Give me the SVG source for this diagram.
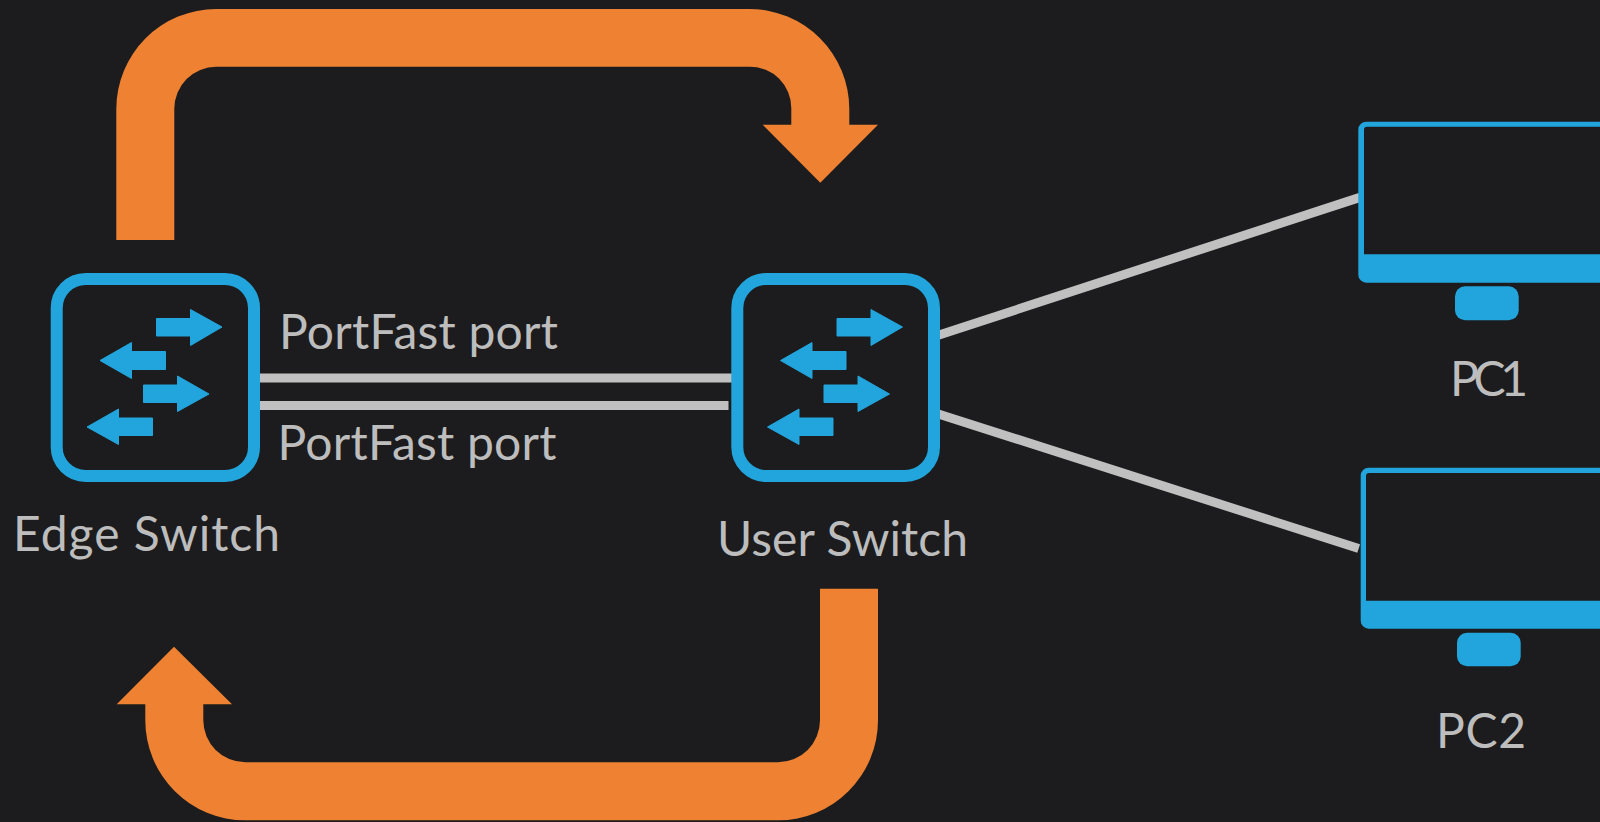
<svg xmlns="http://www.w3.org/2000/svg" width="1600" height="822" viewBox="0 0 1600 822">
<style>
.bg{fill:#1c1c1e}
.flow{fill:#ee8232}
.link{stroke:#c0c0c0;stroke-width:9;fill:none}
.box{fill:#1c1c1e;stroke:#22a5dc;stroke-width:12}
.blue{fill:#22a5dc}
.glyph{fill:#22a5dc;stroke:#22a5dc;stroke-width:1;stroke-linejoin:round}
text{font-family:"Lato","Noto Sans",sans-serif;font-size:48px;fill:#bdbdbd}
</style>
<defs>
<g id="arrows">
<path class="glyph" d="M156.500 318.500H190.500V309.500L222 327L190.500 345.500V336H156.500Z"/>
<path class="glyph" d="M165.500 351.500H131.500V342.500L100 360.500L131.500 378.500V369.500H165.500Z"/>
<path class="glyph" d="M143.500 385H177.500V376L209 394L177.500 411.500V402.500H143.500Z"/>
<path class="glyph" d="M152.500 418H118.500V409L87 427L118.500 444.500V435.500H152.500Z"/>
</g>
</defs>
<rect class="bg" width="1600" height="822"/>
<g id="connectors">
<path class="link" d="M260 378H732"/>
<path class="link" d="M256 405.500H728.500"/>
<path class="link" d="M936 336L1360 197.400"/>
<path class="link" d="M936 413.200L1358.700 548.500"/>
<path id="flow-top" class="flow" d="M116.300 240V109A100 100 0 0 1 216.300 9H749.300A100 100 0 0 1 849.300 109V124.700H878L820.300 182.700L762.700 124.700H791.300V108A41.300 41.300 0 0 0 750 66.700H216.300A42 42 0 0 0 174.300 108.700V240Z"/>
<path id="flow-bottom" class="flow" d="M878 588.700V720.300A100 100 0 0 1 778 820.300H245.300A100 100 0 0 1 145.300 720.300V704.300H116.700L174 646.700L232 704.300H203.300V720.300A42 42 0 0 0 245.300 762.300H778A42 42 0 0 0 820 720.300V588.700Z"/>
</g>
<g id="edge-switch">
<rect class="box" x="56.700" y="279" width="197.300" height="197" rx="29"/>
<use href="#arrows"/>
<text x="13" y="551" textLength="267">Edge Switch</text>
</g>
<g id="user-switch">
<rect class="box" x="737.300" y="279" width="196.700" height="197" rx="29"/>
<use href="#arrows" x="680.500"/>
<text x="717" y="556" textLength="251">User Switch</text>
</g>
<g id="pc1">
<path class="blue" fill-rule="evenodd" d="M1610 121.700H1366.300A8 8 0 0 0 1358.300 129.700V274.700A8 8 0 0 0 1366.300 282.700H1610ZM1610 126.700V254.300H1364V129.700A3 3 0 0 1 1367 126.700Z"/>
<rect class="blue" x="1455" y="286.300" width="63.700" height="34" rx="10"/>
<text x="1450" y="396" textLength="78">PC1</text>
</g>
<g id="pc2">
<path class="blue" fill-rule="evenodd" d="M1610 467.700H1368.700A8 8 0 0 0 1360.700 475.700V620.700A8 8 0 0 0 1368.700 628.700H1610ZM1610 473V600.700H1366V476A3 3 0 0 1 1369 473Z"/>
<rect class="blue" x="1457" y="632.700" width="63.700" height="33.600" rx="10"/>
<text x="1436" y="748" textLength="90">PC2</text>
</g>
<g id="labels">
<text x="279" y="349" textLength="279">PortFast port</text>
<text x="277.500" y="460" textLength="279">PortFast port</text>
</g>
</svg>
